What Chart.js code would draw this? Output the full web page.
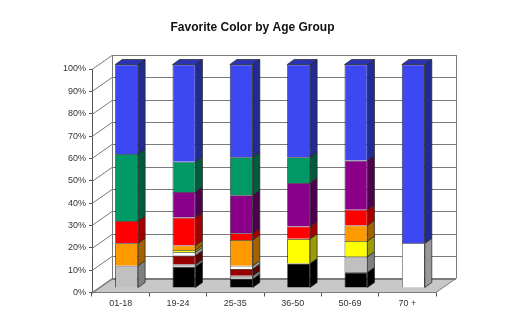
<!DOCTYPE html>
<html>
<head>
<meta charset="utf-8">
<script src="https://cdn.jsdelivr.net/npm/chart.js@4.4.1/dist/chart.umd.min.js"></script>
<style>
  html, body { margin: 0; padding: 0; background: #fff; }
  canvas { display: block; }
</style>
</head>
<body>
<canvas id="chart" width="530" height="325"></canvas>
<script>
// --- Data (percent of each age group, stacked bottom -> top) ---
const ageGroups = ['01-18', '19-24', '25-35', '36-50', '50-69', '70 +'];
const blackVals  = [0, 9.5, 4, 11, 7, 0];
const grayVals   = [10, 1, 1.5, 0, 7, 0];
const maroonVals = [0, 4, 3, 0, 0, 0];
const whiteVals  = [0, 1.5, 1.5, 0, 0, 20];
const yellowVals = [0, 1, 0, 11, 7, 0];
const orangeVals = [10, 2, 11.5, 0, 7, 0];
const redVals    = [10, 12.5, 3, 5.5, 7, 0];
const purpleVals = [0, 11.5, 17, 19.5, 22, 0];
const greenVals  = [30, 13.5, 17, 11.5, 0, 0];
const blueVals   = [40, 43.5, 41.5, 41.5, 43, 80];
const colorNames = ['Black', 'Gray', 'Maroon', 'White', 'Yellow', 'Orange', 'Red', 'Purple', 'Green', 'Blue'];
const seriesVals = [blackVals, grayVals, maroonVals, whiteVals, yellowVals, orangeVals, redVals, purpleVals, greenVals, blueVals];
const yTickValues = [0, 10, 20, 30, 40, 50, 60, 70, 80, 90, 100];

// --- Styles ---
const frontColors = ['#000000', '#c0c0c0', '#990000', '#ffffff', '#ffff00', '#ff9900', '#ff0000', '#8b008b', '#009966', '#3d48f2'];
const sideColors  = ['#000000', '#808080', '#5c0000', '#999999', '#9c9c00', '#a36200', '#a30000', '#4d004d', '#005c3d', '#222b8f'];
const topColors   = ['#222222', '#a0a0a0', '#700000', '#cccccc', '#c0c000', '#cc7a00', '#cc0000', '#660066', '#007a52', '#2a33b0'];

const WALL_DX = 20, WALL_DY = -14;   // depth of the 3D box
const BAR_DX = 7, BAR_DY = -5;       // depth of each bar
const SHIFT_X = 6, SHIFT_Y = -4.5;   // bars sit mid-depth
const lineCol = '#7a7a7a';

const box3d = {
    id: 'box3d',
    beforeDatasetsDraw(chart) {
        const ctx = chart.ctx;
        const a = chart.chartArea;
        const y = chart.scales.y;
        ctx.save();
        // floor
        ctx.fillStyle = '#c8c8c8';
        ctx.strokeStyle = lineCol;
        ctx.lineWidth = 1;
        ctx.beginPath();
        ctx.moveTo(a.left, a.bottom);
        ctx.lineTo(a.right, a.bottom);
        ctx.lineTo(a.right + WALL_DX, a.bottom + WALL_DY);
        ctx.lineTo(a.left + WALL_DX, a.bottom + WALL_DY);
        ctx.closePath();
        ctx.fill();
        ctx.stroke();
        // side wall + back wall grid lines
        yTickValues.forEach(v => {
            const py = Math.round(y.getPixelForValue(v)) + 0.5;
            ctx.beginPath();
            ctx.moveTo(a.left, py);
            ctx.lineTo(a.left + WALL_DX, py + WALL_DY);
            ctx.lineTo(a.right + WALL_DX, py + WALL_DY);
            ctx.stroke();
        });
        const bl = Math.round(a.left + WALL_DX) + 0.5, br = Math.round(a.right + WALL_DX) + 0.5;
        ctx.beginPath();
        ctx.moveTo(bl, a.top + WALL_DY);
        ctx.lineTo(bl, a.bottom + WALL_DY);
        ctx.moveTo(br, a.top + WALL_DY);
        ctx.lineTo(br, a.bottom + WALL_DY);
        ctx.stroke();
        ctx.restore();

        // bars drawn shifted into the middle of the box
        ctx.save();
        ctx.translate(SHIFT_X, SHIFT_Y);
    },
    afterDatasetsDraw(chart) {
        const ctx = chart.ctx;
        const n = chart.data.labels.length;
        // topmost non-empty segment per category
        const topIdx = [];
        for (let i = 0; i < n; i++) {
            let t = -1;
            chart.data.datasets.forEach((ds, d) => { if (ds.data[i] > 0) t = d; });
            topIdx.push(t);
        }
        ctx.lineWidth = 0.7;
        ctx.strokeStyle = '#222';
        chart.data.datasets.forEach((ds, d) => {
            const meta = chart.getDatasetMeta(d);
            meta.data.forEach((el, i) => {
                if (!(ds.data[i] > 0)) return;
                const left = el.x - el.width / 2, right = el.x + el.width / 2;
                const top = Math.min(el.y, el.base), bottom = Math.max(el.y, el.base);
                ctx.fillStyle = sideColors[d];
                ctx.beginPath();
                ctx.moveTo(right, top);
                ctx.lineTo(right + BAR_DX, top + BAR_DY);
                ctx.lineTo(right + BAR_DX, bottom + BAR_DY);
                ctx.lineTo(right, bottom);
                ctx.closePath();
                ctx.fill();
                ctx.stroke();
                if (topIdx[i] === d) {
                    ctx.fillStyle = topColors[d];
                    ctx.beginPath();
                    ctx.moveTo(left, top);
                    ctx.lineTo(left + BAR_DX, top + BAR_DY);
                    ctx.lineTo(right + BAR_DX, top + BAR_DY);
                    ctx.lineTo(right, top);
                    ctx.closePath();
                    ctx.fill();
                    ctx.stroke();
                }
            });
        });
        ctx.restore();
    },
    afterDraw(chart) {
        const ctx = chart.ctx;
        ctx.save();
        ctx.fillStyle = '#111';
        ctx.font = 'bold 12px "Liberation Sans", Arial, sans-serif';
        ctx.textAlign = 'center';
        ctx.textBaseline = 'middle';
        ctx.fillText('Favorite Color by Age Group', 252.5, 28);
        ctx.restore();
    }
};

new Chart(document.getElementById('chart'), {
    type: 'bar',
    data: {
        labels: ageGroups,
        datasets: seriesVals.map((vals, d) => ({
            label: colorNames[d],
            data: vals,
            backgroundColor: frontColors[d],
            borderColor: '#222',
            borderWidth: 0.8,
            barPercentage: 0.4,
            categoryPercentage: 1,
            clip: false
        }))
    },
    options: {
        responsive: false,
        animation: false,
        layout: { padding: { left: 10, right: 94, top: 69, bottom: 0 } },
        plugins: { legend: { display: false }, tooltip: { enabled: false }, title: { display: false } },
        scales: {
            x: {
                stacked: true,
                grid: { display: true, drawOnChartArea: false, offset: true, tickLength: 4, color: '#555' },
                border: { display: true, color: '#555' },
                ticks: { color: '#333', font: { family: '"Liberation Sans", Arial', size: 9 }, padding: 2, maxRotation: 0 },
                afterFit(s) { s.height = 32.5; }
            },
            y: {
                stacked: true,
                min: 0,
                max: 100,
                grid: { display: true, drawOnChartArea: false, tickLength: 3, color: '#555' },
                border: { display: true, color: '#555' },
                ticks: {
                    stepSize: 10,
                    color: '#333',
                    font: { family: '"Liberation Sans", Arial', size: 9 },
                    padding: 3,
                    callback: v => v + '%'
                },
                afterFit(s) { s.width = 82; }
            }
        }
    },
    plugins: [box3d]
});
</script>
</body>
</html>
